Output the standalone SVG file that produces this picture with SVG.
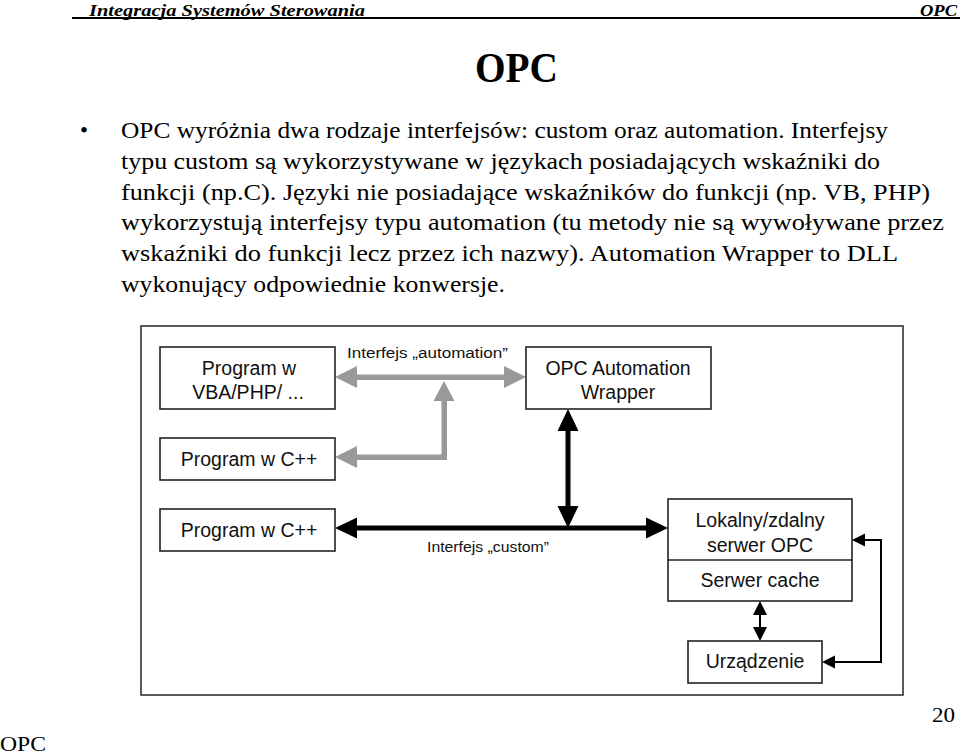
<svg xmlns="http://www.w3.org/2000/svg" width="960" height="755" viewBox="0 0 960 755">
<style>
.hdr{font-family:"Liberation Serif",serif;font-weight:bold;font-style:italic;font-size:17px;fill:#000}
.body{font-family:"Liberation Serif",serif;font-size:23px;fill:#000}
.box{fill:#fff;stroke:#222;stroke-width:1.6}
.lbl{font-family:"Liberation Sans",Arial,sans-serif;font-size:19.5px;fill:#111;text-anchor:middle}
.sm{font-family:"Liberation Sans",Arial,sans-serif;font-size:15.5px;fill:#111}
.gray{fill:#999;stroke:none}
.blk{fill:#000;stroke:none}
</style>
<rect width="960" height="755" fill="#fff"/>
<g id="header">
<text class="hdr" x="89" y="16" textLength="276" lengthAdjust="spacingAndGlyphs">Integracja Systemów Sterowania</text>
<text class="hdr" x="920" y="16" textLength="37" lengthAdjust="spacingAndGlyphs">OPC</text>
<line x1="72" y1="18" x2="960" y2="18" stroke="#000" stroke-width="2"/>
</g>
<text id="title" x="475" y="82" font-family="Liberation Serif, serif" font-weight="bold" font-size="43" textLength="83" lengthAdjust="spacingAndGlyphs">OPC</text>
<g id="bodytext">
<text class="body" x="80" y="138">•</text>
<text class="body" x="121" y="138" textLength="767" lengthAdjust="spacingAndGlyphs">OPC wyróżnia dwa rodzaje interfejsów: custom oraz automation. Interfejsy</text>
<text class="body" x="121" y="169" textLength="759" lengthAdjust="spacingAndGlyphs">typu custom są wykorzystywane w językach posiadających wskaźniki do</text>
<text class="body" x="121" y="200" textLength="809" lengthAdjust="spacingAndGlyphs">funkcji (np.C). Języki nie posiadające wskaźników do funkcji (np. VB, PHP)</text>
<text class="body" x="121" y="230" textLength="823" lengthAdjust="spacingAndGlyphs">wykorzystują interfejsy typu automation (tu metody nie są wywoływane przez</text>
<text class="body" x="121" y="261" textLength="777" lengthAdjust="spacingAndGlyphs">wskaźniki do funkcji lecz przez ich nazwy). Automation Wrapper to DLL</text>
<text class="body" x="121" y="292" textLength="384" lengthAdjust="spacingAndGlyphs">wykonujący odpowiednie konwersje.</text>
</g>
<rect id="frame" x="141" y="326" width="762" height="369" fill="none" stroke="#333" stroke-width="1.6"/>
<g id="connectors">
<rect class="gray" x="356" y="374.5" width="149" height="5.5"/>
<polygon class="gray" points="335,377 357,366 357,388"/>
<polygon class="gray" points="526,377 504,366 504,388"/>
<rect class="gray" x="441.5" y="399" width="5.5" height="61"/>
<polygon class="gray" points="444,381 433.5,401 454.5,401"/>
<rect class="gray" x="356" y="454.5" width="91" height="5.5"/>
<polygon class="gray" points="335,457 357,446 357,468"/>
<rect class="blk" x="565.5" y="430" width="5" height="80"/>
<polygon class="blk" points="568,409 557.5,431 578.5,431"/>
<polygon class="blk" points="568,528 557.5,506 578.5,506"/>
<rect class="blk" x="356" y="525.5" width="292" height="5"/>
<polygon class="blk" points="335,528 357,517.5 357,538.5"/>
<polygon class="blk" points="668,528 646,517.5 646,538.5"/>
<polyline points="864,540 881,540 881,662 834,662" fill="none" stroke="#000" stroke-width="2"/>
<polygon class="blk" points="852,540 865,533.5 865,546.5"/>
<polygon class="blk" points="822,662 835,655.5 835,668.5"/>
<line x1="760" y1="613" x2="760" y2="629" stroke="#000" stroke-width="2"/>
<polygon class="blk" points="760,601 753,615 767,615"/>
<polygon class="blk" points="760,641 753,627 767,627"/>
<text class="sm" x="347" y="358" textLength="161" lengthAdjust="spacingAndGlyphs">Interfejs „automation”</text>
<text class="sm" x="427" y="552" textLength="122" lengthAdjust="spacingAndGlyphs">Interfejs „custom”</text>
</g>
<g id="vba">
<rect class="box" x="160" y="347" width="175" height="62"/>
<text class="lbl" x="249" y="375">Program w</text>
<text class="lbl" x="248" y="399">VBA/PHP/ ...</text>
</g>
<g id="cpp1">
<rect class="box" x="160" y="438" width="175" height="42"/>
<text class="lbl" x="249" y="466">Program w C++</text>
</g>
<g id="cpp2">
<rect class="box" x="160" y="509" width="175" height="42"/>
<text class="lbl" x="249" y="537">Program w C++</text>
</g>
<g id="wrapper">
<rect class="box" x="526" y="347" width="185" height="62"/>
<text class="lbl" x="618" y="375">OPC Automation</text>
<text class="lbl" x="618" y="399">Wrapper</text>
</g>
<g id="server">
<rect class="box" x="668" y="499" width="184" height="102"/>
<line x1="668" y1="560" x2="852" y2="560" stroke="#222" stroke-width="1.6"/>
<text class="lbl" x="760" y="527">Lokalny/zdalny</text>
<text class="lbl" x="760" y="552">serwer OPC</text>
<text class="lbl" x="760" y="587">Serwer cache</text>
</g>
<g id="device">
<rect class="box" x="688" y="641" width="134" height="42"/>
<text class="lbl" x="755" y="668">Urządzenie</text>
</g>
<g id="footer">
<text x="932" y="722" font-family="Liberation Serif, serif" font-size="20" textLength="23" lengthAdjust="spacingAndGlyphs">20</text>
<text x="0" y="751" font-family="Liberation Serif, serif" font-size="22" textLength="46" lengthAdjust="spacingAndGlyphs">OPC</text>
</g>
</svg>
